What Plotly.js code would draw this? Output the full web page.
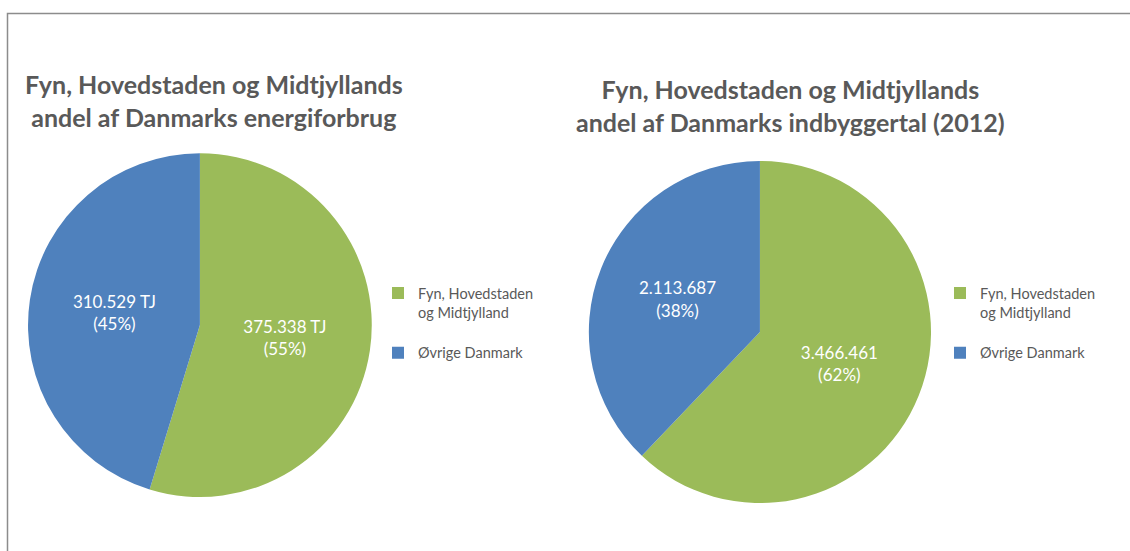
<!DOCTYPE html>
<html>
<head>
<meta charset="utf-8">
<script src="https://cdn.plot.ly/plotly-3.0.1.min.js"></script>
<style>html,body{margin:0;padding:0;background:#fff;}#chart{width:1130px;height:551px;}</style>
</head>
<body>
<div id="chart"></div>
<script>
const categories = ["Fyn, Hovedstaden<br>og Midtjylland", "Øvrige Danmark"];
const energyTJ = [375338, 310529];
const population2012 = [3466461, 2113687];
const title1 = "Fyn, Hovedstaden og Midtjyllands<br>andel af Danmarks energiforbrug";
const title2 = "Fyn, Hovedstaden og Midtjyllands<br>andel af Danmarks indbyggertal (2012)";
const colors = ["#9BBB59", "#4F81BD"];

const FONT = "Lato, 'Open Sans', sans-serif";
const grey = "#595959";

// each legend entry gets a blank trailing line to reproduce the spacing between items;
// the two charts use slightly different (invisible) suffixes so each gets its own legend
const legendLabels1 = categories.map(c => c + "<br>\u00a0");
const legendLabels2 = categories.map(c => c + "<br>\u00a0\u00a0");

const traces = [
  {
    type: "pie", labels: legendLabels1, values: energyTJ, sort: false, direction: "clockwise", rotation: 0,
    marker: {colors: colors, line: {width: 0}},
    texttemplate: "%{value:,} TJ<br>(%{percent:.0%})", textposition: "inside", insidetextorientation: "horizontal",
    textfont: {family: FONT, size: 17, color: "#fff"},
    domain: {x: [0.0248, 0.329], y: [0.098, 0.722]},
    hoverinfo: "label+value+percent", legend: "legend"
  },
  {
    type: "pie", labels: legendLabels2, values: population2012, sort: false, direction: "clockwise", rotation: 0,
    marker: {colors: colors, line: {width: 0}},
    texttemplate: "%{value:,}<br>(%{percent:.0%})", textposition: "inside", insidetextorientation: "horizontal",
    textfont: {family: FONT, size: 17, color: "#fff"},
    domain: {x: [0.521, 0.824], y: [0.087, 0.708]},
    hoverinfo: "label+value+percent", legend: "legend2"
  }
];

const legendStyle = {font: {family: FONT, size: 14.5, color: grey}, bgcolor: "rgba(0,0,0,0)", itemwidth: 30, tracegroupgap: 0, traceorder: "normal", valign: "top"};

const layout = {
  width: 1130, height: 551,
  margin: {l: 0, r: 0, t: 0, b: 0},
  paper_bgcolor: "#fff",
  separators: ",.",
  showlegend: true,
  legend: Object.assign({x: 378/1130, y: 0.497, xanchor: "left", yanchor: "top"}, legendStyle),
  legend2: Object.assign({x: 940/1130, y: 0.497, xanchor: "left", yanchor: "top"}, legendStyle),
  annotations: [
    {text: "<b>" + title1.replace("<br>", "</b><br><b>") + "</b>", xref: "paper", yref: "paper", x: 213.5/1130, y: 1 - 101/551, xanchor: "center", yanchor: "middle", showarrow: false, font: {family: FONT, size: 25, color: grey}},
    {text: "<b>" + title2.replace("<br>", "</b><br><b>") + "</b>", xref: "paper", yref: "paper", x: 790/1130, y: 1 - 105/551, xanchor: "center", yanchor: "middle", showarrow: false, font: {family: FONT, size: 25, color: grey}}
  ],
  shapes: [
    {type: "rect", xref: "paper", yref: "paper", x0: 7.5/1130, x1: 1.02, y0: -0.02, y1: 1 - 13.5/551, line: {color: "#8c8c8c", width: 1.5}, fillcolor: "rgba(0,0,0,0)"}
  ]
};

Plotly.newPlot("chart", traces, layout, {displayModeBar: false, staticPlot: true});
</script>
</body>
</html>
